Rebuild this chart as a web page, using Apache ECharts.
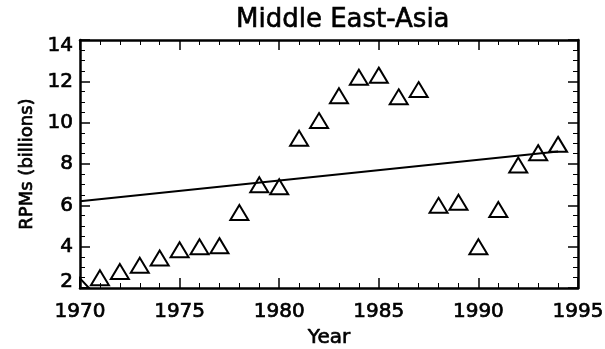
<!DOCTYPE html>
<html>
<head>
<meta charset="utf-8">
<script src="https://cdn.jsdelivr.net/npm/echarts@6/dist/echarts.min.js"></script>
<style>
  html, body { margin: 0; background: #fff; }
  #chart { width: 605px; height: 349px; }
</style>
</head>
<body>
<div id="chart"></div>
<script>
// 연도별 RPM 데이터 (단위: 십억)
var years = [1970, 1971, 1972, 1973, 1974, 1975, 1976, 1977, 1978, 1979, 1980, 1981,
             1982, 1983, 1984, 1985, 1986, 1987, 1988, 1989, 1990, 1991, 1992, 1993, 1994];
var rpms = [2.1, 2.5, 2.8, 3.1, 3.45, 3.85, 4.0, 4.05, 5.65, 7.0, 6.9, 9.25,
            10.1, 11.3, 12.2, 12.3, 11.25, 11.6, 6.0, 6.15, 4.0, 5.8, 7.95, 8.55, 8.95];

// 추세선 양 끝점
var fitYears = [1970, 1994];
var fitValues = [6.2, 8.6];

var xTicks = { min: 1970, max: 1995, interval: 5 };
var yTicks = { min: 2, max: 14, interval: 2 };

var font = 'DejaVu Sans';
// 글자를 조금 굵게 보이게 하는 외곽선
var heavy = { textBorderColor: '#000', textBorderWidth: 0.7 };

var chart = echarts.init(document.getElementById('chart'));

// 삼각형 마커 (플롯 영역 밖은 잘라냄)
function renderTriangle(params, api) {
  var c = api.coord([api.value(0), api.value(1)]);
  var pts = [[c[0], c[1] - 7.5], [c[0] + 9, c[1] + 7.5], [c[0] - 9, c[1] + 7.5]];
  var cs = params.coordSys;
  pts = echarts.graphic.clipPointsByRect(pts, { x: cs.x, y: cs.y, width: cs.width, height: cs.height });
  return {
    type: 'polygon',
    shape: { points: pts },
    style: { fill: 'none', stroke: '#000', lineWidth: 2 }
  };
}

function axisBase(extra) {
  var a = {
    type: 'value',
    axisLine: { show: true, onZero: false, lineStyle: { color: '#000', width: 2.5 } },
    axisTick: { show: true, inside: true, length: 10, lineStyle: { color: '#000', width: 1.5 } },
    splitLine: { show: false }
  };
  for (var k in extra) a[k] = extra[k];
  return a;
}

var labelStyle = { color: '#000', fontFamily: font, fontSize: 20, textBorderColor: heavy.textBorderColor, textBorderWidth: heavy.textBorderWidth };

var pairs = years.map(function (y, i) { return [y, rpms[i]]; });
var fitPairs = fitYears.map(function (y, i) { return [y, fitValues[i]]; });

var option = {
  animation: false,
  title: {
    text: 'Middle East-Asia',
    left: 231,
    top: 2,
    textStyle: { fontFamily: font, fontSize: 26, fontWeight: 'normal', color: '#000',
                 textBorderColor: '#000', textBorderWidth: 0.6 }
  },
  grid: { left: 80, right: 27, top: 40, bottom: 61, containLabel: false, outerBoundsMode: 'none' },
  xAxis: [
    axisBase({
      min: xTicks.min, max: xTicks.max, interval: xTicks.interval, position: 'bottom',
      name: 'Year', nameLocation: 'middle', nameGap: 33,
      nameTextStyle: labelStyle,
      axisLabel: Object.assign({ margin: 14, formatter: function (v) { return String(v); } }, labelStyle),
      minorTick: { show: true, splitNumber: 5, length: 5, lineStyle: { color: '#000', width: 1 } }
    }),
    axisBase({
      min: xTicks.min, max: xTicks.max, interval: xTicks.interval, position: 'top',
      axisLabel: { show: false },
      minorTick: { show: true, splitNumber: 5, length: 5, lineStyle: { color: '#000', width: 1 } }
    })
  ],
  yAxis: [
    axisBase({
      min: yTicks.min, max: yTicks.max, interval: yTicks.interval, position: 'left',
      name: 'RPMs (billions)', nameLocation: 'middle', nameGap: 43,
      nameTextStyle: Object.assign({}, labelStyle, { fontSize: 18 }),
      axisLabel: Object.assign({
        margin: 7,
        formatter: function (v) {
          if (v === yTicks.max) return '{top|' + v + '}';
          if (v === yTicks.min) return '{bot|' + v + '}';
          return String(v);
        },
        rich: {
          top: Object.assign({ padding: [12, 0, 0, 0] }, labelStyle),
          bot: Object.assign({ padding: [0, 0, 12, 0] }, labelStyle)
        }
      }, labelStyle),
      minorTick: { show: true, splitNumber: 4, length: 5, lineStyle: { color: '#000', width: 1 } }
    }),
    axisBase({
      min: yTicks.min, max: yTicks.max, interval: yTicks.interval, position: 'right',
      axisLabel: { show: false },
      minorTick: { show: true, splitNumber: 4, length: 5, lineStyle: { color: '#000', width: 1 } }
    })
  ],
  series: [
    {
      type: 'line',
      data: fitPairs,
      symbol: 'none',
      lineStyle: { color: '#000', width: 2 },
      silent: true
    },
    {
      type: 'custom',
      data: pairs,
      renderItem: renderTriangle,
      silent: true
    }
  ]
};

chart.setOption(option);
</script>
</body>
</html>
